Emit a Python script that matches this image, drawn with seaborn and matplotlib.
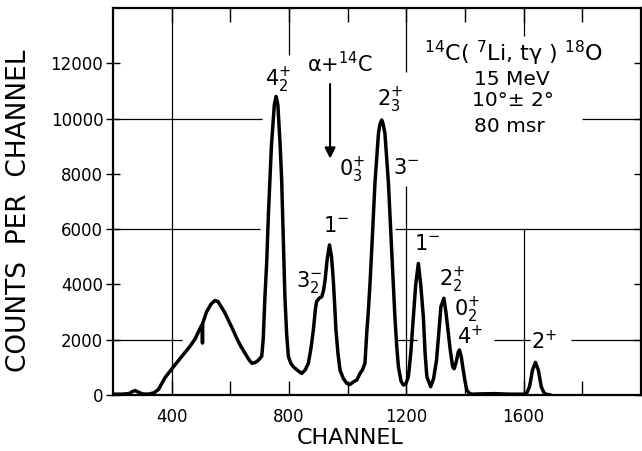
import matplotlib
matplotlib.use('Agg')
import matplotlib.pyplot as plt
import seaborn as sns
import pandas as pd

# ---- data ----
channel = [200, 230, 255, 265, 275, 285, 300, 320, 340, 355, 377, 406, 434, 463,
           480, 491, 502, 504, 505, 506, 519, 535, 548, 558, 565, 580, 593, 608,
           622, 636, 650, 662, 673, 684, 695, 707, 712, 718, 724, 730, 740, 750,
           756, 762, 770, 775, 781, 786, 792, 798, 806, 815, 828, 843, 855, 866,
           875, 883, 890, 894, 903, 912, 918, 923, 930, 938, 945, 951, 956, 960,
           967, 974, 985, 997, 1008, 1020, 1031, 1042, 1050, 1059, 1065, 1070,
           1076, 1082, 1093, 1105, 1110, 1116, 1121, 1127, 1139, 1150, 1161,
           1167, 1173, 1182, 1190, 1198, 1207, 1215, 1224, 1232, 1241, 1249,
           1258, 1264, 1270, 1283, 1293, 1303, 1311, 1318, 1328, 1335, 1343,
           1350, 1358, 1363, 1370, 1377, 1381, 1387, 1394, 1400, 1406, 1415,
           1423, 1450, 1500, 1550, 1600, 1610, 1620, 1630, 1640, 1650, 1660,
           1670, 1680, 1690]
counts = [30, 30, 50, 120, 160, 110, 40, 30, 80, 200, 620, 1020, 1390, 1770,
          2030, 2280, 2520, 2550, 1880, 2600, 3010, 3300, 3420, 3380, 3260, 3000,
          2710, 2380, 2050, 1760, 1510, 1300, 1150, 1170, 1250, 1400, 2000, 3560,
          4800, 6580, 9000, 10500, 10800, 10500, 9000, 7780, 5500, 3560, 2200,
          1390, 1150, 1020, 900, 780, 900, 1150, 1700, 2350, 3100, 3380, 3500,
          3560, 3800, 4160, 4900, 5430, 5000, 4160, 3200, 2350, 1500, 900, 600,
          420, 380, 480, 540, 780, 900, 1150, 2240, 2960, 4000, 5250, 7660, 9470,
          9800, 9950, 9800, 9470, 7660, 5250, 2830, 1800, 1020, 500, 360, 400,
          660, 1500, 2830, 4000, 4760, 4000, 2830, 1500, 660, 300, 600, 1270,
          2300, 3200, 3500, 3000, 2240, 1600, 1020, 950, 1200, 1550, 1630, 1400,
          900, 500, 180, 60, 30, 40, 50, 30, 30, 60, 300, 900, 1180, 900, 300,
          60, 20, 10]

x_major = [400, 800, 1200, 1600]
x_minor = [600, 1000, 1400, 1800]
y_major = [0, 2000, 4000, 6000, 8000, 10000, 12000]

# level labels: (text, channel, counts)
level_labels = [
    (r'$4^{+}_{2}$', 763, 11400),
    (r'$2^{+}_{3}$', 1144, 10670),
    (r'$0^{+}_{3}$', 1015, 8140),
    (r'$3^{-}$', 1199, 8210),
    (r'$1^{-}$', 960, 6110),
    (r'$3^{-}_{2}$', 868, 4090),
    (r'$1^{-}$', 1271, 5460),
    (r'$2^{+}_{2}$', 1356, 4160),
    (r'$0^{+}_{2}$', 1407, 3080),
    (r'$4^{+}$', 1417, 2130),
    (r'$2^{+}$', 1670, 1950),
]

info_lines = [
    (r'$^{14}$C( $^{7}$Li, t$\gamma$ ) $^{18}$O', 1564, 12370, 16),
    ('15 MeV', 1560, 11400, 14.5),
    ('10°± 2°', 1562, 10670, 14.5),
    ('80 msr', 1550, 9700, 14.5),
]

# partial drafting-paper grid segments (decoration)
h_segments = [(10000, 200, 708), (10000, 1800, 2000), (6000, 200, 700),
              (6000, 1160, 2000), (2000, 200, 435), (2000, 1165, 1236),
              (2000, 1500, 1620), (2000, 1760, 2000)]
v_segments = [(400, 0, 14000), (800, 12300, 14000), (1200, 11700, 14000),
              (1200, 0, 7560), (1600, 13000, 14000), (1600, 0, 6000)]

sns.set_style('white')
plt.rcParams['font.family'] = ['DejaVu Sans']
plt.rcParams['mathtext.fontset'] = 'dejavusans'
plt.rcParams['mathtext.default'] = 'regular'

fig = plt.figure(figsize=(6.42, 4.51), dpi=100)
ax = fig.add_axes([113 / 642, 1 - 395 / 451, 528 / 642, 387 / 451])

df = pd.DataFrame({'channel': channel, 'counts': counts})
sns.lineplot(data=df, x='channel', y='counts', ax=ax, color='black',
             linewidth=2.5, estimator=None, sort=True)

for y, x0, x1 in h_segments:
    ax.hlines(y, x0, x1, color='black', linewidth=0.9, zorder=1)
for x, y0, y1 in v_segments:
    ax.vlines(x, y0, y1, color='black', linewidth=0.9, zorder=1)

ax.set_xlim(200, 2000)
ax.set_ylim(0, 14000)
ax.set_xticks(x_major)
ax.set_xticks(x_minor, minor=True)
ax.set_yticks(y_major)
ax.set_xticklabels([str(v) for v in x_major])
ax.set_yticklabels([str(v) for v in y_major])
ax.tick_params(axis='x', which='both', direction='in', length=10, width=1,
               top=True, bottom=True, labelsize=12, pad=9, colors='black')
ax.tick_params(axis='y', which='both', direction='inout', length=10, width=1,
               left=True, right=True, labelsize=12, pad=2, colors='black')

for sp in ax.spines.values():
    sp.set_color('black')
    sp.set_linewidth(1.6)

ax.set_xlabel('CHANNEL', fontsize=16, color='black')
ax.xaxis.set_label_coords(0.449, -0.085)
ax.set_ylabel('COUNTS  PER  CHANNEL', fontsize=19, color='black')
ax.yaxis.set_label_coords(-0.153, 0.475)

for txt, cx, cy in level_labels:
    ax.text(cx, cy, txt, fontsize=15, ha='center', va='center', color='black')

ax.text(975, 12000, r'$\alpha$+$^{14}$C', fontsize=15, ha='center',
        va='center', color='black')
ax.annotate('', xy=(940, 8450), xytext=(940, 11350),
            arrowprops=dict(arrowstyle='-|>', color='black', lw=1.5,
                            mutation_scale=16))

for txt, cx, cy, fs in info_lines:
    ax.text(cx, cy, txt, fontsize=fs, ha='center', va='center', color='black')

fig.savefig('out.png', dpi=100)
